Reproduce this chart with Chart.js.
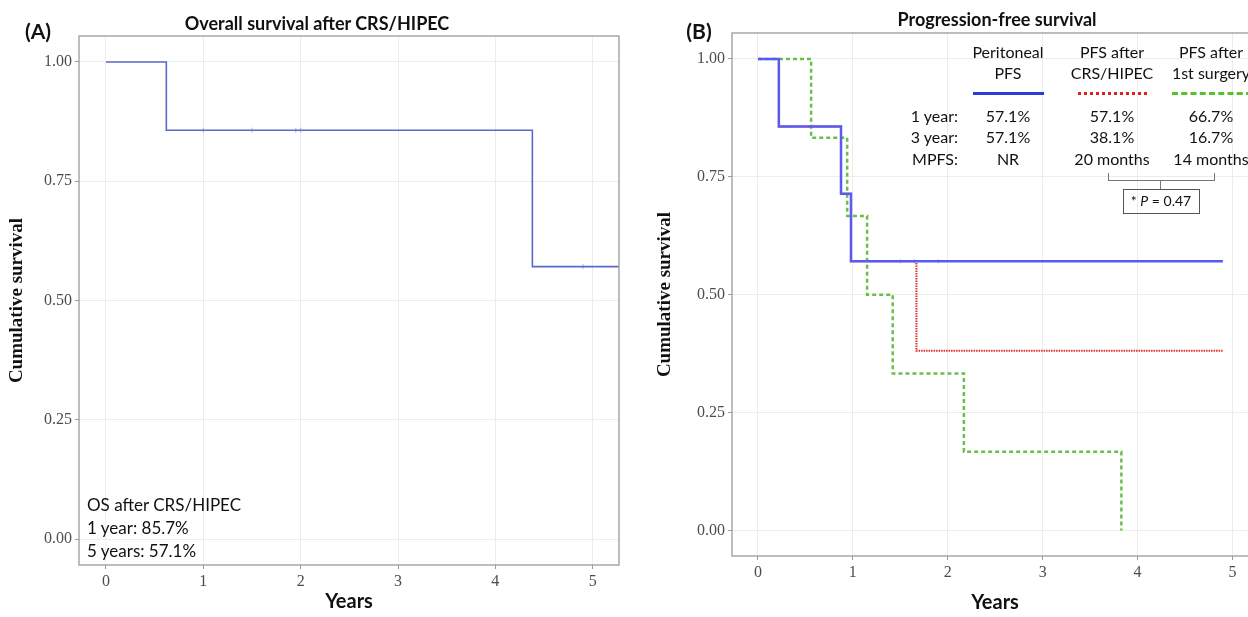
<!DOCTYPE html>
<html>
<head>
<meta charset="utf-8">
<script src="https://cdn.jsdelivr.net/npm/chart.js@4/dist/chart.umd.min.js"></script>
<style>
html, body { margin: 0; padding: 0; background: #fff; overflow: hidden; }
#wrap { position: relative; width: 1248px; height: 617px; overflow: hidden; }
canvas { position: absolute; top: 0; }
.t { position: absolute; font-family: Lato, sans-serif; color: #111; white-space: nowrap; line-height: 1; transform: translate(-50%, -50%); }
.r { transform: translate(-100%, -50%); }
.l { transform: translate(0, -50%); }
.b { font-weight: bold; }
.hl { position: absolute; height: 0; }
</style>
</head>
<body>
<div id="wrap">
    <canvas id="chartA" width="640" height="617" style="left:0"></canvas>
    <canvas id="chartB" width="640" height="617" style="left:640px"></canvas>

    <div class="t b" style="left:38px; top:30px; font-size:21px">(A)</div>
    <div class="t b" style="left:317px; top:23px; font-size:18px">Overall survival after CRS/HIPEC</div>
    <div class="t l" style="left:87px; top:504px; font-size:17px">OS after CRS/HIPEC</div>
    <div class="t l" style="left:87px; top:527px; font-size:17px">1 year: 85.7%</div>
    <div class="t l" style="left:87px; top:550px; font-size:17px">5 years: 57.1%</div>

    <div class="t b" style="left:699px; top:30px; font-size:21px">(B)</div>
    <div class="t b" style="left:997px; top:19px; font-size:18px">Progression-free survival</div>

    <div class="t" style="left:1008px; top:52px; font-size:16px">Peritoneal</div>
    <div class="t" style="left:1008px; top:73px; font-size:16px">PFS</div>
    <div class="t" style="left:1112px; top:52px; font-size:16px">PFS after</div>
    <div class="t" style="left:1112px; top:73px; font-size:16px">CRS/HIPEC</div>
    <div class="t" style="left:1211px; top:52px; font-size:16px">PFS after</div>
    <div class="t" style="left:1211px; top:73px; font-size:16px">1st surgery</div>

    <div class="hl" style="left:973px; top:92px; width:71px; border-top:3px solid #2b3bdc"></div>
    <div class="hl" style="left:1078px; top:92px; width:69px; border-top:3px dotted #e02020"></div>
    <div class="hl" style="left:1172px; top:92px; width:80px; border-top:3px dashed #5ac02a"></div>

    <div class="t r" style="left:958px; top:116px; font-size:16px">1 year:</div>
    <div class="t r" style="left:958px; top:137px; font-size:16px">3 year:</div>
    <div class="t r" style="left:958px; top:159px; font-size:16px">MPFS:</div>

    <div class="t" style="left:1008px; top:116px; font-size:16px">57.1%</div>
    <div class="t" style="left:1008px; top:137px; font-size:16px">57.1%</div>
    <div class="t" style="left:1008px; top:159px; font-size:16px">NR</div>
    <div class="t" style="left:1112px; top:116px; font-size:16px">57.1%</div>
    <div class="t" style="left:1112px; top:137px; font-size:16px">38.1%</div>
    <div class="t" style="left:1112px; top:159px; font-size:16px">20 months</div>
    <div class="t" style="left:1211px; top:116px; font-size:16px">66.7%</div>
    <div class="t" style="left:1211px; top:137px; font-size:16px">16.7%</div>
    <div class="t" style="left:1211px; top:159px; font-size:16px">14 months</div>

    <div style="position:absolute; left:1108px; top:173px; width:105px; height:7px; border:1px solid #777; border-top:none"></div>
    <div style="position:absolute; left:1160px; top:181px; width:0; height:8px; border-left:1px solid #777"></div>
    <div style="position:absolute; left:1123px; top:189px; width:75px; height:23px; border:1px solid #555"></div>
    <div class="t" style="left:1161px; top:201px; font-size:14px">* <i>P</i> = 0.47</div>
</div>

<script>
// tick marks
const xTickValues = [0, 1, 2, 3, 4, 5];
const xTickLabels = ['0', '1', '2', '3', '4', '5'];
const yTickValues = [0, 0.25, 0.5, 0.75, 1];
const yTickLabels = ['0.00', '0.25', '0.50', '0.75', '1.00'];

// (A) overall survival after CRS/HIPEC
const osTime = [0, 0.62, 4.38, 5.27];
const osSurv = [1, 0.857, 0.571, 0.571];
const osCensorTime = [1.0, 1.5, 1.95, 2.0, 4.9];
const osCensorSurv = [0.857, 0.857, 0.857, 0.857, 0.571];

// (B) progression-free survival
const periTime = [0, 0.22, 0.875, 0.98, 4.9];
const periSurv = [1, 0.857, 0.714, 0.571, 0.571];
const crsTime = [0, 0.22, 0.875, 0.98, 1.67, 4.9];
const crsSurv = [1, 0.857, 0.714, 0.571, 0.381, 0.381];
const firstTime = [0, 0.56, 0.94, 1.15, 1.42, 2.17, 3.83];
const firstSurv = [1, 0.833, 0.667, 0.5, 0.333, 0.167, 0];
const pfsCensorTime = [1.5, 1.65, 1.9];
const pfsCensorSurv = [0.571, 0.571, 0.571];

function toPoints(xs, ys) {
    return xs.map((x, i) => ({ x: x, y: ys[i] }));
}

const boxPlugin = {
    id: 'box',
    afterDatasetsDraw: function(chart) {
        const a = chart.chartArea;
        const ctx = chart.ctx;
        ctx.save();
        ctx.strokeStyle = '#9a9a9a';
        ctx.lineWidth = 1.3;
        ctx.strokeRect(a.left, a.top, a.right - a.left, a.bottom - a.top);
        ctx.restore();
    },
};

function buildScales(o) {
    return {
        x: {
            type: 'linear',
            min: o.xMin,
            max: o.xMax,
            afterBuildTicks: s => { s.ticks = xTickValues.map(v => ({ value: v })); },
            afterFit: s => { s.height = o.xHeight; },
            ticks: {
                callback: (v, i) => xTickLabels[i],
                font: { family: '"Liberation Serif", serif', size: 16 },
                color: '#4d4d4d',
                maxRotation: 0,
                padding: 3,
            },
            grid: { color: '#ececec', tickColor: '#9a9a9a', tickLength: 4 },
            border: { display: false },
            title: {
                display: true,
                text: 'Years',
                color: '#111',
                font: { family: 'Lato', weight: 'bold', size: 20 },
                padding: { top: 0, bottom: o.xTitlePad },
            },
        },
        y: {
            type: 'linear',
            min: o.yMin,
            max: o.yMax,
            afterBuildTicks: s => { s.ticks = yTickValues.map(v => ({ value: v })); },
            afterFit: s => { s.width = o.yWidth; },
            ticks: {
                callback: (v, i) => yTickLabels[i],
                font: { family: '"Liberation Serif", serif', size: 16 },
                color: '#4d4d4d',
                padding: 3,
            },
            grid: { color: '#ececec', tickColor: '#9a9a9a', tickLength: 4 },
            border: { display: false },
            title: {
                display: true,
                text: 'Cumulative survival',
                color: '#111',
                font: { family: '"Liberation Serif", serif', weight: 'bold', size: 19 },
                padding: { top: o.yTitlePad, bottom: 0 },
            },
        },
    };
}

const common = {
    responsive: false,
    animation: false,
    events: [],
    plugins: { legend: { display: false }, tooltip: { enabled: false } },
};

new Chart(document.getElementById('chartA').getContext('2d'), {
    type: 'scatter',
    data: {
        datasets: [
            {
                label: 'OS',
                data: toPoints(osTime, osSurv),
                showLine: true,
                stepped: true,
                borderColor: '#5a6acb',
                borderWidth: 1.6,
                pointRadius: 0,
            },
            {
                label: 'censored',
                data: toPoints(osCensorTime, osCensorSurv),
                pointStyle: 'line',
                rotation: 90,
                radius: 2.5,
                borderColor: 'rgba(120, 130, 200, 0.6)',
                borderWidth: 1,
            },
        ],
    },
    options: Object.assign({}, common, {
        layout: { padding: { top: 36, right: 21, left: 0, bottom: 0 } },
        scales: buildScales({
            xMin: -0.277, xMax: 5.27, yMin: -0.0545, yMax: 1.0545,
            xHeight: 52, yWidth: 79, xTitlePad: 3, yTitlePad: 6,
        }),
    }),
    plugins: [boxPlugin],
});

new Chart(document.getElementById('chartB').getContext('2d'), {
    type: 'scatter',
    data: {
        datasets: [
            {
                label: 'Peritoneal PFS',
                data: toPoints(periTime, periSurv),
                showLine: true,
                stepped: true,
                borderColor: '#5a5af0',
                borderWidth: 2.5,
                pointRadius: 0,
            },
            {
                label: 'censored',
                data: toPoints(pfsCensorTime, pfsCensorSurv),
                pointStyle: 'line',
                rotation: 90,
                radius: 2,
                borderColor: 'rgba(150, 150, 170, 0.7)',
                borderWidth: 1,
            },
            {
                label: 'PFS after CRS/HIPEC',
                data: toPoints(crsTime, crsSurv),
                showLine: true,
                stepped: true,
                borderColor: '#dd3030',
                borderWidth: 2,
                borderDash: [1.5, 1],
                pointRadius: 0,
            },
            {
                label: 'PFS after 1st surgery',
                data: toPoints(firstTime, firstSurv),
                showLine: true,
                stepped: true,
                borderColor: '#6abf4b',
                borderWidth: 2.5,
                borderDash: [4, 3],
                pointRadius: 0,
            },
        ],
    },
    options: Object.assign({}, common, {
        layout: { padding: { top: 33, right: 22, left: 0, bottom: 0 } },
        scales: buildScales({
            xMin: -0.274, xMax: 5.27, yMin: -0.054, yMax: 1.055,
            xHeight: 61, yWidth: 92, xTitlePad: 2, yTitlePad: 14,
        }),
    }),
    plugins: [boxPlugin],
});
</script>
</body>
</html>
